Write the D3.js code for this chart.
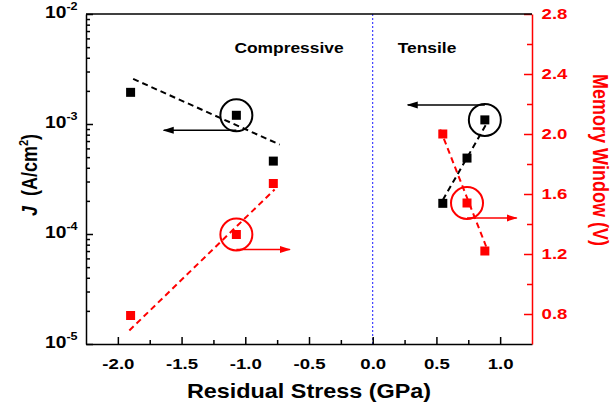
<!DOCTYPE html>
<html>
<head>
<meta charset="utf-8">
<script src="https://cdn.jsdelivr.net/npm/d3@7"></script>
<style>
  body { margin: 0; background: #fff; }
  svg text { font-family: "Liberation Sans", Arial, sans-serif; font-weight: bold; }
</style>
</head>
<body>
<svg width="612" height="408"></svg>
<script>
// data
const stress = [-1.9, -1.07, -0.78, 0.55, 0.74, 0.88];
const currentJ = [1.94e-3, 1.2e-3, 4.6e-4, 1.9e-4, 4.9e-4, 1.09e-3];
const memWindow = [0.79, 1.33, 1.67, 2.0, 1.54, 1.22];

// dashed guide lines (x pairs, y pairs)
const jFits = [
  { x: [-1.88, -0.73], y: [2.57e-3, 6.5e-4] },
  { x: [0.55, 0.89], y: [2.04e-4, 9.9e-4] }
];
const mwFits = [
  { x: [-1.91, -0.77], y: [0.69, 1.63] },
  { x: [0.53, 0.89], y: [2.03, 1.25] }
];

// circled points and arrows pointing to the axis they belong to
const jNotes = [{ i: 1, toX: -1.64, side: 1 }, { i: 5, toX: 0.275, side: -1 }];
const mwNotes = [{ i: 1, toX: -0.65, side: 1 }, { i: 4, toX: 1.13, side: 1 }];

const xTicks = [-2.0, -1.5, -1.0, -0.5, 0.0, 0.5, 1.0];
const xMinor = [-1.75, -1.25, -0.75, -0.25, 0.25, 0.75];
const jTicks = [1e-5, 1e-4, 1e-3, 1e-2];
const mwTicks = [0.8, 1.2, 1.6, 2.0, 2.4, 2.8];
const mwMinor = [1.0, 1.4, 1.8, 2.2, 2.6];

const svg = d3.select("svg");
const pLeft = 86, pRight = 532, pTop = 14, pBottom = 344;
const stretch = 1.2; // the original picture is a bit wider than tall
const red = "#ff0000";

const x = d3.scaleLinear().domain([-2.25, 1.25]).range([pLeft, pRight]);
const yJ = d3.scaleLog().domain([1e-5, 1e-2]).range([pBottom, pTop]);
const yMW = d3.scaleLinear().domain([0.6, 2.8]).range([pBottom, pTop]);

// minor log ticks
let jMinor = [];
jTicks.slice(0, -1).forEach(d => { for (let k = 2; k <= 9; k++) jMinor.push(d * k); });

// defs for arrows
const defs = svg.append("defs");
[["arrBlack", "#000"], ["arrRed", red]].forEach(([id, c]) => {
  defs.append("marker")
    .attr("id", id)
    .attr("markerUnits", "userSpaceOnUse")
    .attr("markerWidth", 11).attr("markerHeight", 8)
    .attr("refX", 10).attr("refY", 4)
    .attr("orient", "auto")
    .append("path")
    .attr("d", "M0,0.5 L11,4 L0,7.5 z")
    .attr("fill", c);
});

// zero line
svg.append("line")
  .attr("x1", x(0)).attr("x2", x(0))
  .attr("y1", pTop).attr("y2", pBottom)
  .attr("stroke", "#1a1aff").attr("stroke-width", 1)
  .attr("stroke-dasharray", "2,2");

// plain hyphen for negatives, like the original
const fmt1 = d => d.toFixed(1);

// axes
const gx = svg.append("g")
  .attr("transform", `translate(0,${pBottom})`)
  .call(d3.axisBottom(x).tickValues(xTicks).tickSize(-7).tickSizeOuter(0).tickPadding(14)
    .tickFormat(fmt1));
gx.selectAll("text").attr("font-size", 15.5).attr("fill", "#000")
  .attr("transform", `scale(${stretch},1)`);
svg.append("g")
  .attr("transform", `translate(0,${pBottom})`)
  .call(d3.axisBottom(x).tickValues(xMinor).tickSize(-4).tickFormat(""))
  .select(".domain").remove();

const gl = svg.append("g")
  .attr("transform", `translate(${pLeft},0)`)
  .call(d3.axisLeft(yJ).tickValues(jTicks).tickSize(-7).tickSizeOuter(0).tickFormat(""));
gl.selectAll(".tick").append("text")
  .attr("x", -7).attr("dy", "0.35em")
  .attr("text-anchor", "end")
  .attr("fill", "#000")
  .attr("transform", `scale(${stretch},1)`)
  .each(function(d) {
    const t = d3.select(this);
    t.append("tspan").attr("font-size", 16).text("10");
    t.append("tspan").attr("font-size", 10.5).attr("dy", "-0.75em").text(Math.round(Math.log10(d)));
  });
svg.append("g")
  .attr("transform", `translate(${pLeft},0)`)
  .call(d3.axisLeft(yJ).tickValues(jMinor).tickSize(-4).tickFormat(""))
  .select(".domain").remove();

const gr = svg.append("g")
  .attr("transform", `translate(${pRight},0)`)
  .call(d3.axisRight(yMW).tickValues(mwTicks).tickSize(-8).tickSizeOuter(0).tickPadding(8)
    .tickFormat(fmt1));
gr.selectAll("text").attr("font-size", 15.5).attr("fill", red)
  .attr("transform", `scale(${stretch},1)`);
const grMinor = svg.append("g")
  .attr("transform", `translate(${pRight},0)`)
  .call(d3.axisRight(yMW).tickValues(mwMinor).tickSize(-5).tickFormat(""));
grMinor.select(".domain").remove();
svg.selectAll("g").selectAll(".domain, line").attr("stroke-width", 1.5);
gr.selectAll(".domain, line").attr("stroke", red);
grMinor.selectAll("line").attr("stroke", red);

// top frame
svg.append("line")
  .attr("x1", pLeft).attr("x2", pRight).attr("y1", pTop).attr("y2", pTop)
  .attr("stroke", "#000").attr("stroke-width", 1.5);

// dashed guides
const lineJ = d3.line().x(d => x(d[0])).y(d => yJ(d[1]));
const lineMW = d3.line().x(d => x(d[0])).y(d => yMW(d[1]));
svg.selectAll(".fitJ").data(jFits).enter().append("path")
  .attr("d", d => lineJ(d.x.map((v, k) => [v, d.y[k]])))
  .attr("fill", "none").attr("stroke", "#000").attr("stroke-width", 2).attr("stroke-dasharray", "6,4");
svg.selectAll(".fitMW").data(mwFits).enter().append("path")
  .attr("d", d => lineMW(d.x.map((v, k) => [v, d.y[k]])))
  .attr("fill", "none").attr("stroke", red).attr("stroke-width", 2).attr("stroke-dasharray", "6,4");

// squares
const sz = 9;
svg.selectAll(".ptJ").data(stress).enter().append("rect")
  .attr("x", d => x(d) - sz / 2).attr("y", (d, i) => yJ(currentJ[i]) - sz / 2)
  .attr("width", sz).attr("height", sz).attr("fill", "#000");
svg.selectAll(".ptMW").data(stress).enter().append("rect")
  .attr("x", d => x(d) - sz / 2).attr("y", (d, i) => yMW(memWindow[i]) - sz / 2)
  .attr("width", sz).attr("height", sz).attr("fill", red);

// circles + arrows
const r = 16;
function note(list, yScale, vals, color, marker) {
  list.forEach(n => {
    const cx = x(stress[n.i]), cy = yScale(vals[n.i]);
    svg.append("circle").attr("cx", cx).attr("cy", cy).attr("r", r)
      .attr("fill", "none").attr("stroke", color).attr("stroke-width", 2);
    svg.append("line")
      .attr("x1", cx).attr("x2", x(n.toX))
      .attr("y1", cy + n.side * (r - 1)).attr("y2", cy + n.side * (r - 1))
      .attr("stroke", color).attr("stroke-width", 1.5)
      .attr("marker-end", `url(#${marker})`);
  });
}
note(jNotes, yJ, currentJ, "#000", "arrBlack");
note(mwNotes, yMW, memWindow, red, "arrRed");

// region labels
svg.append("text").attr("transform", `translate(289,53) scale(${stretch},1)`)
  .attr("text-anchor", "middle").attr("font-size", 14.5).text("Compressive");
svg.append("text").attr("transform", `translate(427,53) scale(${stretch},1)`)
  .attr("text-anchor", "middle").attr("font-size", 14.5).text("Tensile");

// axis titles
svg.append("text").attr("transform", `translate(309,398) scale(${stretch},1)`)
  .attr("text-anchor", "middle").attr("font-size", 19.5).text("Residual Stress (GPa)");

const yt = svg.append("text").attr("transform", `translate(37,175) scale(${stretch},1) rotate(-90)`)
  .attr("text-anchor", "middle").attr("font-size", 18);
yt.append("tspan").attr("font-style", "italic").text("J");
yt.append("tspan").text("\u00a0\u00a0(A/cm");
yt.append("tspan").attr("font-size", 11).attr("dy", "-0.7em").text("2");
yt.append("tspan").attr("dy", "0.45em").text(")");

svg.append("text").attr("transform", `translate(593,160) scale(${stretch},1) rotate(90)`)
  .attr("text-anchor", "middle").attr("font-size", 18).attr("fill", red).text("Memory Window (V)");
</script>
</body>
</html>
